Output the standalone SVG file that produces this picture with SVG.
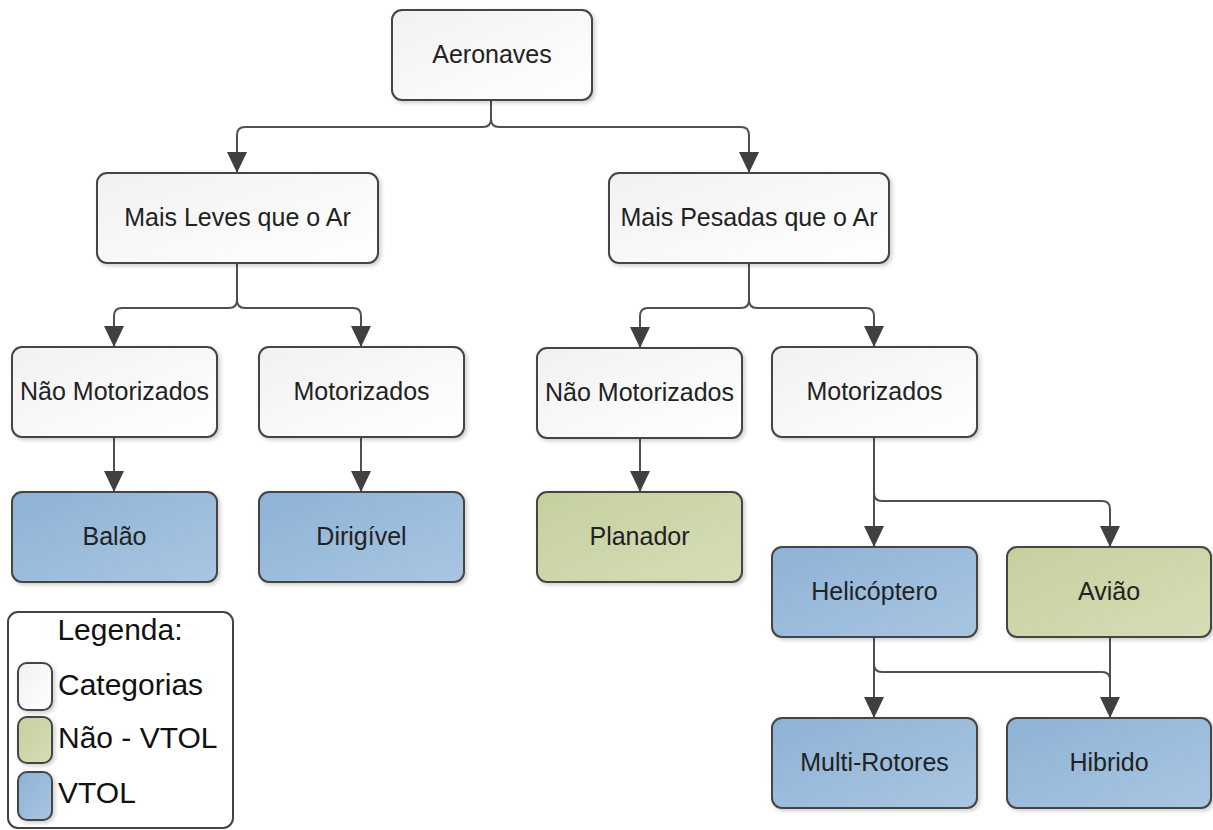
<svg xmlns="http://www.w3.org/2000/svg" width="1213" height="830" viewBox="0 0 1213 830">
  <style>
    .box { stroke: #444444; stroke-width: 2; filter: url(#shadow); }
    .cat { fill: url(#gWhite); }
    .vtol { fill: url(#gBlue); }
    .nvtol { fill: url(#gGreen); }
    .lbl { font-family: "Liberation Sans", Arial, sans-serif; font-size: 25px; fill: #222222; text-anchor: middle; }
    .leg { font-family: "Liberation Sans", Arial, sans-serif; font-size: 30px; fill: #111111; }
    .wire { fill: none; stroke: #505050; stroke-width: 2; }
    .arrow { marker-end: url(#head); }
  </style>
  <defs>
    <linearGradient id="gWhite" x1="0" y1="0" x2="1" y2="1">
      <stop offset="0" stop-color="#f1f1f1"/>
      <stop offset="1" stop-color="#ffffff"/>
    </linearGradient>
    <linearGradient id="gBlue" x1="0" y1="0" x2="1" y2="1">
      <stop offset="0" stop-color="#8eb2d5"/>
      <stop offset="1" stop-color="#a9c6e2"/>
    </linearGradient>
    <linearGradient id="gGreen" x1="0" y1="0" x2="1" y2="1">
      <stop offset="0" stop-color="#c5d09e"/>
      <stop offset="1" stop-color="#d6ddb7"/>
    </linearGradient>
    <filter id="shadow" x="-10%" y="-10%" width="130%" height="130%">
      <feDropShadow dx="2" dy="2" stdDeviation="2" flood-color="#000000" flood-opacity="0.2"/>
    </filter>
    <!-- filled triangular arrowhead, tip at the end of the path -->
    <marker id="head" markerUnits="userSpaceOnUse" markerWidth="22" markerHeight="22" viewBox="0 0 22 22" refX="21" refY="11" orient="auto">
      <path d="M0,1 L21,11 L0,21 Z" fill="#404040"/>
    </marker>
  </defs>

  <rect width="1213" height="830" fill="#ffffff"/>

  <!-- connectors -->
  <g id="connectors">
    <!-- Aeronaves -->
    <path class="wire arrow" d="M491,100 V119 Q491,127 483,127 H245 Q237,127 237,135 V173"/>
    <path class="wire arrow" d="M491,100 V119 Q491,127 499,127 H741 Q749,127 749,135 V173"/>
    <!-- Mais Leves que o Ar -->
    <path class="wire arrow" d="M237,263 V300 Q237,308 229,308 H122 Q114,308 114,316 V347"/>
    <path class="wire arrow" d="M237,263 V300 Q237,308 245,308 H353 Q361,308 361,316 V347"/>
    <!-- Mais Pesadas que o Ar -->
    <path class="wire arrow" d="M749,263 V300 Q749,308 741,308 H648 Q640,308 640,316 V348"/>
    <path class="wire arrow" d="M749,263 V300 Q749,308 757,308 H866 Q874,308 874,316 V347"/>
    <!-- third level -->
    <path class="wire arrow" d="M114,437 V492"/>
    <path class="wire arrow" d="M361,437 V492"/>
    <path class="wire arrow" d="M640,438 V492"/>
    <!-- Motorizados (pesadas) -->
    <path class="wire arrow" d="M874,437 V547"/>
    <path class="wire arrow" d="M874,437 V493 Q874,501 882,501 H1102 Q1110,501 1110,509 V547"/>
    <!-- Helicóptero / Avião -->
    <path class="wire arrow" d="M874,637 V718"/>
    <path class="wire" d="M874,637 V664 Q874,672 882,672 H1102 Q1110,672 1110,680"/>
    <path class="wire arrow" d="M1110,637 V718"/>
  </g>

  <g id="n-aeronaves">
    <rect class="box cat" x="392" y="10" width="200" height="90" rx="10"/>
    <text class="lbl" x="492" y="63">Aeronaves</text>
  </g>
  <g id="n-leves">
    <rect class="box cat" x="97" y="173" width="281" height="90" rx="10"/>
    <text class="lbl" x="237.5" y="226">Mais Leves que o Ar</text>
  </g>
  <g id="n-pesadas">
    <rect class="box cat" x="609" y="173" width="280" height="90" rx="10"/>
    <text class="lbl" x="749" y="226">Mais Pesadas que o Ar</text>
  </g>
  <g id="n-leves-nao-motorizados">
    <rect class="box cat" x="12" y="347" width="205" height="90" rx="10"/>
    <text class="lbl" x="114.5" y="400">Não Motorizados</text>
  </g>
  <g id="n-leves-motorizados">
    <rect class="box cat" x="259" y="347" width="205" height="90" rx="10"/>
    <text class="lbl" x="361.5" y="400">Motorizados</text>
  </g>
  <g id="n-pesadas-nao-motorizados">
    <rect class="box cat" x="537" y="348" width="205" height="90" rx="10"/>
    <text class="lbl" x="639.5" y="401">Não Motorizados</text>
  </g>
  <g id="n-pesadas-motorizados">
    <rect class="box cat" x="772" y="347" width="205" height="90" rx="10"/>
    <text class="lbl" x="874.5" y="400">Motorizados</text>
  </g>
  <g id="n-balao">
    <rect class="box vtol" x="12" y="492" width="205" height="90" rx="10"/>
    <text class="lbl" x="114.5" y="545">Balão</text>
  </g>
  <g id="n-dirigivel">
    <rect class="box vtol" x="259" y="492" width="205" height="90" rx="10"/>
    <text class="lbl" x="361.5" y="545">Dirigível</text>
  </g>
  <g id="n-planador">
    <rect class="box nvtol" x="537" y="492" width="205" height="90" rx="10"/>
    <text class="lbl" x="639.5" y="545">Planador</text>
  </g>
  <g id="n-helicoptero">
    <rect class="box vtol" x="772" y="547" width="205" height="90" rx="10"/>
    <text class="lbl" x="874.5" y="600">Helicóptero</text>
  </g>
  <g id="n-aviao">
    <rect class="box nvtol" x="1007" y="547" width="204" height="90" rx="10"/>
    <text class="lbl" x="1109" y="600">Avião</text>
  </g>
  <g id="n-multirotores">
    <rect class="box vtol" x="772" y="718" width="205" height="90" rx="10"/>
    <text class="lbl" x="874.5" y="771">Multi-Rotores</text>
  </g>
  <g id="n-hibrido">
    <rect class="box vtol" x="1007" y="718" width="204" height="90" rx="10"/>
    <text class="lbl" x="1109" y="771">Hibrido</text>
  </g>

  <g id="legend">
    <rect x="8" y="612" width="225" height="216" rx="10" fill="#ffffff" stroke="#444444" stroke-width="2"/>
    <text class="leg" x="120" y="640" text-anchor="middle">Legenda:</text>
    <rect class="box cat" x="18" y="663" width="34" height="47" rx="9"/>
    <text class="leg" x="58" y="695">Categorias</text>
    <rect class="box nvtol" x="18" y="717" width="34" height="46" rx="9"/>
    <text class="leg" x="58" y="748">Não - VTOL</text>
    <rect class="box vtol" x="18" y="772" width="34" height="48" rx="9"/>
    <text class="leg" x="58" y="803">VTOL</text>
  </g>
</svg>
